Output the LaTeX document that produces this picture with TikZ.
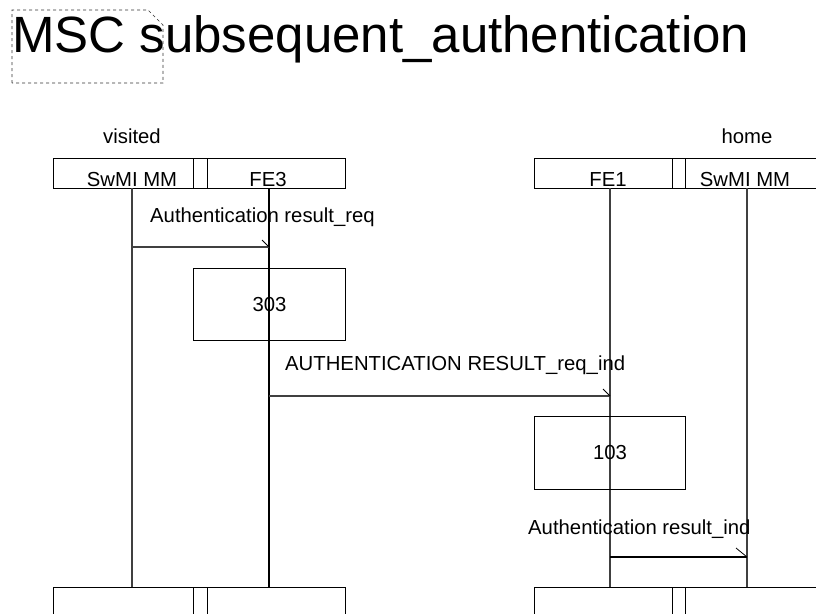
\documentclass[tikz,border=0pt]{standalone}
\usepackage{fontspec}
\setmainfont{Liberation Sans}
\begin{document}
\begin{tikzpicture}[x=1pt,y=-1pt,
  box/.style={draw, line width=1pt, inner sep=0pt, anchor=north west},
  lbl/.style={font=\fontsize{20.3}{24}\selectfont, inner sep=0pt},
  life/.style={line width=1.1pt, draw=black!75},
  msg/.style={line width=1.1pt},
  tip/.style={line width=0.8pt}]
\useasboundingbox (0,0) rectangle (816,613);
% title
\node[font=\fontsize{51}{60}\selectfont, anchor=base west, inner sep=0pt] (title) at (12,52) {MSC subsequent\_authentication};
\draw[dashed, line width=0.7pt, draw=black!80] (12,83) -- (12,10) -- (148,10) -- (163,25) -- (163,83) -- cycle;
% instance groups
\node[lbl, anchor=base] (visited) at (132,143) {visited};
\node[lbl, anchor=base] (home) at (747,143) {home};
% top headers
\node[box, minimum width=292pt, minimum height=30pt] (vh) at (53,158) {};
\node[box, minimum width=14pt, minimum height=30pt] (vhs) at (193,158) {};
\node[box, minimum width=300pt, minimum height=30pt] (hh) at (534,158) {};
\node[box, minimum width=13pt, minimum height=30pt] (hhs) at (672,158) {};
\node[lbl, anchor=base] (t1) at (132,186) {SwMI MM};
\node[lbl, anchor=base] (t2) at (268,186) {FE3};
\node[lbl, anchor=base] (t3) at (608,186) {FE1};
\node[lbl, anchor=base] (t4) at (745,186) {SwMI MM};
% bottom boxes
\node[box, minimum width=292pt, minimum height=40pt] (vb) at (53,587) {};
\node[box, minimum width=14pt, minimum height=40pt] (vbs) at (193,587) {};
\node[box, minimum width=300pt, minimum height=40pt] (hb) at (534,587) {};
\node[box, minimum width=13pt, minimum height=40pt] (hbs) at (672,587) {};
% lifelines
\coordinate (a0) at (132,188); \coordinate (a1) at (132,587);
\coordinate (b0) at (269,188); \coordinate (b1) at (269,587);
\coordinate (c0) at (610,188); \coordinate (c1) at (610,587);
\coordinate (d0) at (747,188); \coordinate (d1) at (747,587);
\draw[life] (a0) -- (a1);
\draw[life, draw=black] (b0) -- (b1);
\draw[life] (c0) -- (c1);
\draw[life] (d0) -- (d1);
% message 1
\coordinate (m1s) at (132,247); \coordinate (m1e) at (269,247);
\draw[msg, draw=black!75] (m1s) -- (m1e);
\draw[tip] (m1e) -- ++(-7,-7);
\node[lbl, anchor=base west] (l1) at (150,222) {Authentication result\_req};
% action 303
\node[box, minimum width=152pt, minimum height=72pt] (p303) at (193,268) {};
\node[lbl] (n303) at (p303.center) {303};
% message 2
\coordinate (m2s) at (269,396); \coordinate (m2e) at (610,396);
\draw[msg, draw=black!75] (m2s) -- (m2e);
\draw[tip] (m2e) -- ++(-7,-7);
\node[lbl, anchor=base west] (l2) at (285,370) {AUTHENTICATION RESULT\_req\_ind};
% action 103
\node[box, minimum width=151pt, minimum height=73pt] (p103) at (534,416) {};
\node[lbl] (n103) at (p103.center) {103};
% message 3
\coordinate (m3s) at (610,557); \coordinate (m3e) at (747,557);
\draw[msg] (m3s) -- (m3e);
\draw[tip] (m3e) -- ++(-11,-9);
\node[lbl, anchor=base west] (l3) at (528,534) {Authentication result\_ind};
\end{tikzpicture}
\end{document}
